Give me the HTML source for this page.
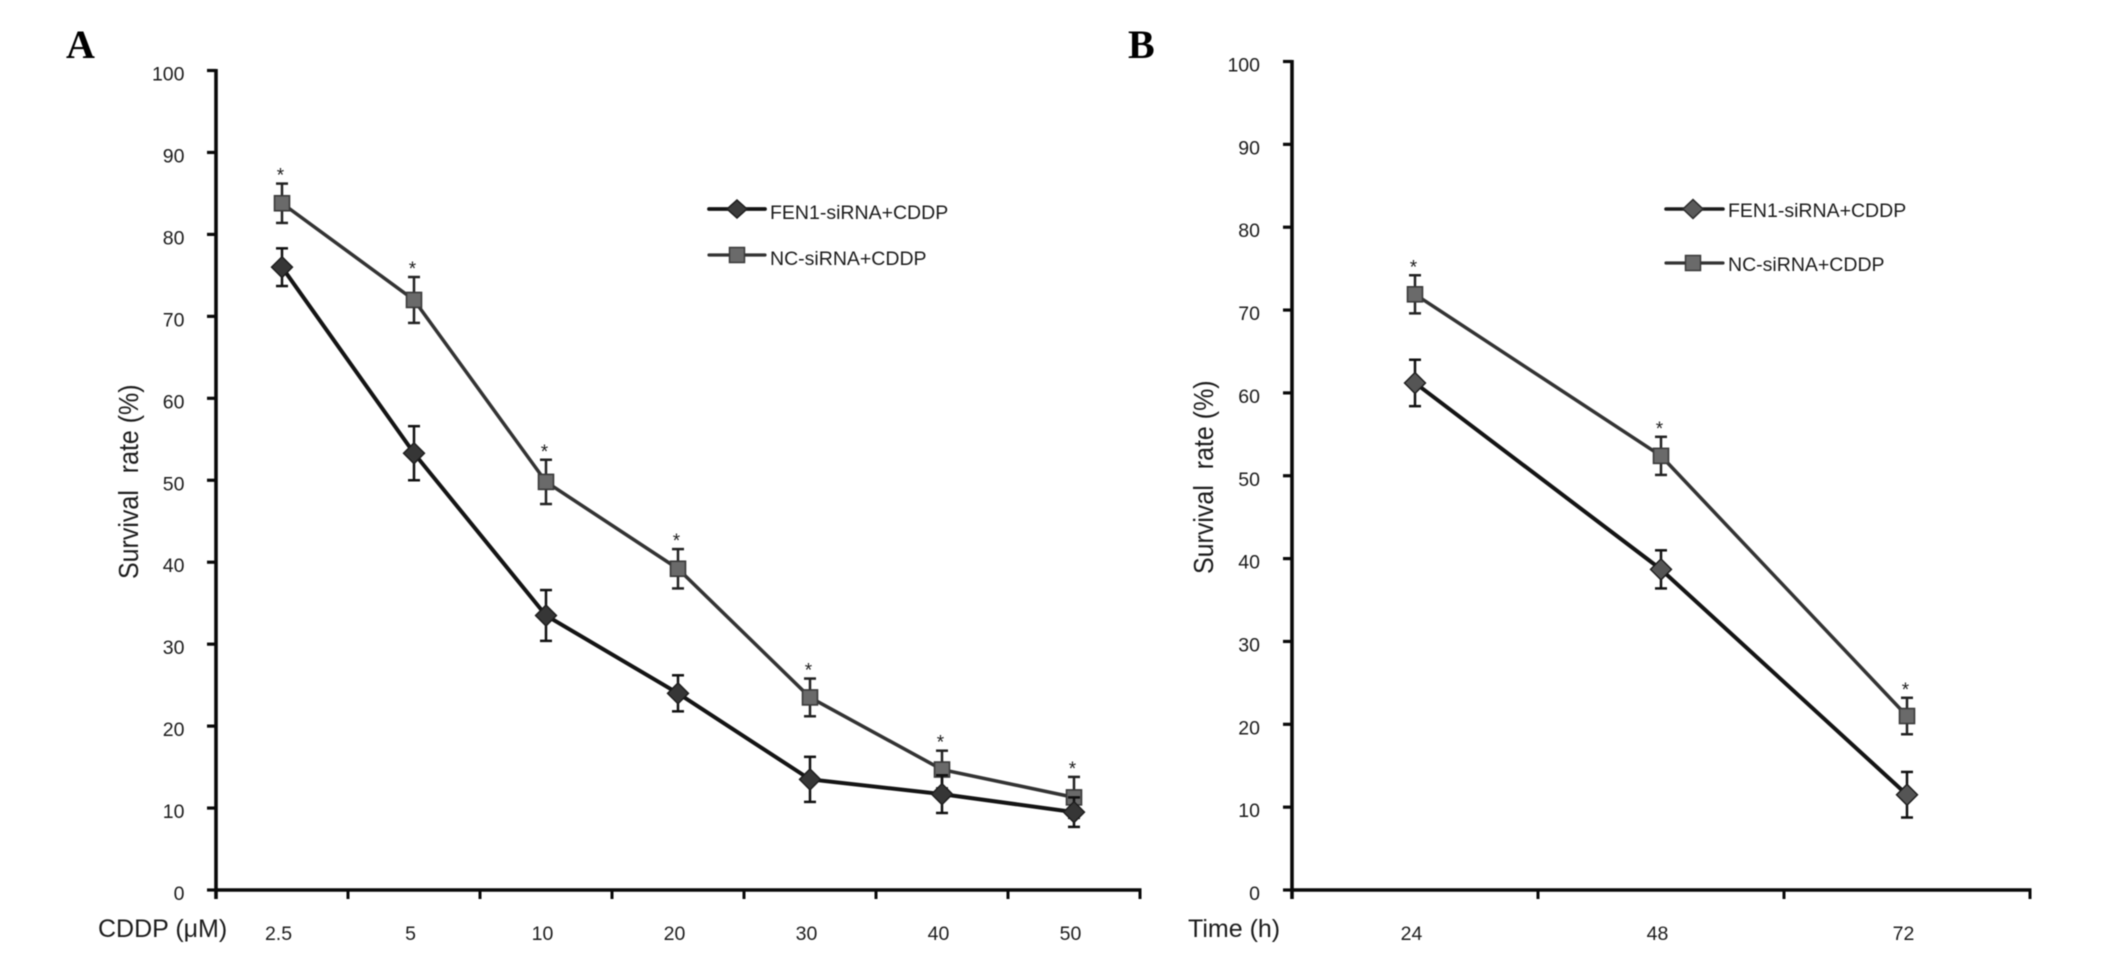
<!DOCTYPE html>
<html lang="en">
<head>
<meta charset="utf-8">
<title>Survival rate charts</title>
<style>
html,body{margin:0;padding:0;background:#fff;width:2126px;height:958px;overflow:hidden}
svg{display:block;position:absolute;left:0;top:0}
text{font-family:"Liberation Sans",Arial,sans-serif;fill:#1c1c1c}
.panel{font-family:"Liberation Serif",serif;font-weight:bold;font-size:40px;fill:#000}
.tick{font-size:19.5px}
.title{font-size:25px}
.leg{font-size:19.5px}
</style>
</head>
<body>
<svg id="figure" width="2126" height="958" viewBox="0 0 2126 958" xmlns="http://www.w3.org/2000/svg">
  <g style="filter:blur(0.45px)">
  <rect x="0" y="0" width="2126" height="958" fill="#fff"/>
  <text class="panel" x="66" y="58">A</text>
  <text class="panel" x="1128" y="58">B</text>

  <g id="chart-a"></g>
  <g id="chart-b"></g>

  <text class="title" transform="translate(138,579) rotate(-90) scale(1,1.1)" xml:space="preserve">Survival  <tspan dx="3">rate (%)</tspan></text>
  <text class="title" x="98" y="937">CDDP (μM)</text>
  <text class="title" transform="translate(1213,574) rotate(-90) scale(1,1.1)" xml:space="preserve">Survival  <tspan dx="2">rate (%)</tspan></text>
  <text class="title" x="1188" y="937">Time (h)</text>

  <g>
    <g>
      <line x1="709" y1="209" x2="765" y2="209" stroke="#141414" stroke-width="3.8" stroke-linecap="round"/>
      <polygon points="737,200 747,209 737,218 727,209" fill="#3a3a3a" stroke="#1c1c1c" stroke-width="1.5"/>
      <text class="leg" x="770" y="219">FEN1-siRNA+CDDP</text>
    </g>
    <g>
      <line x1="709" y1="255" x2="765" y2="255" stroke="#333" stroke-width="3.2" stroke-linecap="round"/>
      <rect x="729.5" y="247.5" width="15" height="15" fill="#6a6a6a" stroke="#3a3a3a" stroke-width="1.5"/>
      <text class="leg" x="770" y="265">NC-siRNA+CDDP</text>
    </g>
  </g>
  <g>
    <g>
      <line x1="1666" y1="209" x2="1723" y2="209" stroke="#1c1c1c" stroke-width="3.6" stroke-linecap="round"/>
      <polygon points="1693,199.5 1703,209 1693,218.5 1683,209" fill="#5a5a5a" stroke="#2a2a2a" stroke-width="1.5"/>
      <text class="leg" x="1728" y="217">FEN1-siRNA+CDDP</text>
    </g>
    <g>
      <line x1="1666" y1="263" x2="1723" y2="263" stroke="#333" stroke-width="3.2" stroke-linecap="round"/>
      <rect x="1685.5" y="255.5" width="15" height="15" fill="#6a6a6a" stroke="#3a3a3a" stroke-width="1.5"/>
      <text class="leg" x="1728" y="271">NC-siRNA+CDDP</text>
    </g>
  </g>
  </g>
</svg>
<script>
// Shared value axis
const yTickValues = [0, 10, 20, 30, 40, 50, 60, 70, 80, 90, 100];

// Panel A data
const categoriesA = ["2.5", "5", "10", "20", "30", "40", "50"];
const fenValuesA = [76, 53.3, 33.5, 24, 13.5, 11.7, 9.5];
const fenErrorsA = [2.3, 3.3, 3.1, 2.2, 2.75, 2.3, 1.8];
const ncValuesA = [83.8, 72, 49.8, 39.2, 23.5, 14.7, 11.3];
const ncErrorsA = [2.4, 2.8, 2.7, 2.4, 2.3, 2.3, 2.5];

// Panel B data
const categoriesB = ["24", "48", "72"];
const fenValuesB = [61.2, 38.7, 11.5];
const fenErrorsB = [2.8, 2.3, 2.75];
const ncValuesB = [71.9, 52.4, 21];
const ncErrorsB = [2.3, 2.3, 2.2];

const NS = "http://www.w3.org/2000/svg";
function make(parent, tag, attrs, txt) {
  const el = document.createElementNS(NS, tag);
  for (const k in attrs) el.setAttribute(k, attrs[k]);
  if (txt !== undefined) el.textContent = txt;
  parent.appendChild(el);
  return el;
}

function drawChart(root, frame, cats, fenV, fenE, ncV, ncE) {
  const step = (frame.x1 - frame.x0) / cats.length;
  const xBand = i => frame.x0 + step * i;
  const xC = i => frame.x0 + step * (i + 0.5);
  const y = v => frame.y0 - (v / 100) * (frame.y0 - frame.y100);
  const axisColor = "#0a0a0a";

  // y axis
  const yAxis = make(root, "line", {x1: frame.x0, y1: y(100) - 1.5, x2: frame.x0, y2: frame.y0 + 9, stroke: axisColor, "stroke-width": 3.6});
  
  
  yTickValues.forEach(v => {
    const t = make(root, "line", {x1: frame.x0 - 9, y1: y(v), x2: frame.x0, y2: y(v), stroke: axisColor, "stroke-width": 3.2});
    
    
    const l = make(root, "text", {class: "tick", x: frame.labelRight, y: y(v) + 10, "text-anchor": "end"}, String(v));
    
    
  });

  // x axis
  const xAxis = make(root, "line", {x1: frame.x0, y1: frame.y0, x2: frame.x1 + 1.5, y2: frame.y0, stroke: axisColor, "stroke-width": 3.6});
  
  
  for (let i = 1; i <= cats.length; i++) {
    const t = make(root, "line", {x1: xBand(i), y1: frame.y0, x2: xBand(i), y2: frame.y0 + 9, stroke: axisColor, "stroke-width": 3});
    
    
  }
  cats.forEach((c, i) => {
    const l = make(root, "text", {class: "tick", x: xC(i) - 3.5, y: 940, "text-anchor": "middle"}, c);
    
    
  });

  // NC series (behind)
  const ncLine = make(root, "polyline", {points: ncV.map((v, i) => xC(i) + "," + y(v)).join(" "), fill: "none", stroke: "#333", "stroke-width": 3.5});
  
  
  ncV.forEach((v, i) => {
    drawError(root, xC(i), y(v + ncE[i]), y(v - ncE[i]), "#222", 'nc-sirna-error-bar');
    const star = make(root, "text", {x: xC(i) - 1.5, y: y(v + ncE[i]) - 2, "text-anchor": "middle", style: "font-size:19px"}, "*");
    
    
    const m = make(root, "rect", {x: xC(i) - 7.5, y: y(v) - 7.5, width: 15, height: 15, fill: "#6a6a6a", stroke: "#3a3a3a", "stroke-width": 1.6});
    
    
  });

  // FEN1 series (front)
  const fenLine = make(root, "polyline", {points: fenV.map((v, i) => xC(i) + "," + y(v)).join(" "), fill: "none", stroke: "#141414", "stroke-width": 4});
  
  
  fenV.forEach((v, i) => {
    drawError(root, xC(i), y(v + fenE[i]), y(v - fenE[i]), "#111", 'fen1-sirna-error-bar');
    const cx = xC(i), cy = y(v), r = 10.5;
    const m = make(root, "polygon", {points: [cx, cy - r, cx + r, cy, cx, cy + r, cx - r, cy].join(" "), fill: frame.diamond, stroke: "#1c1c1c", "stroke-width": 1.4});
    
    
  });
}

function drawError(root, x, yTop, yBottom, color, name) {
  const g = make(root, "g", {stroke: color, "stroke-width": 2.5});
  
  
  make(g, "line", {x1: x, y1: yTop, x2: x, y2: yBottom});
  make(g, "line", {x1: x - 6, y1: yTop, x2: x + 6, y2: yTop});
  make(g, "line", {x1: x - 6, y1: yBottom, x2: x + 6, y2: yBottom});
}

drawChart(document.getElementById("chart-a"),
  {x0: 216, x1: 1140, y0: 890, y100: 70.5, labelRight: 184.5, diamond: "#363636"},
  categoriesA, fenValuesA, fenErrorsA, ncValuesA, ncErrorsA);
drawChart(document.getElementById("chart-b"),
  {x0: 1292, x1: 2030, y0: 890, y100: 61.5, labelRight: 1260, diamond: "#555"},
  categoriesB, fenValuesB, fenErrorsB, ncValuesB, ncErrorsB);
</script>
</body>
</html>
